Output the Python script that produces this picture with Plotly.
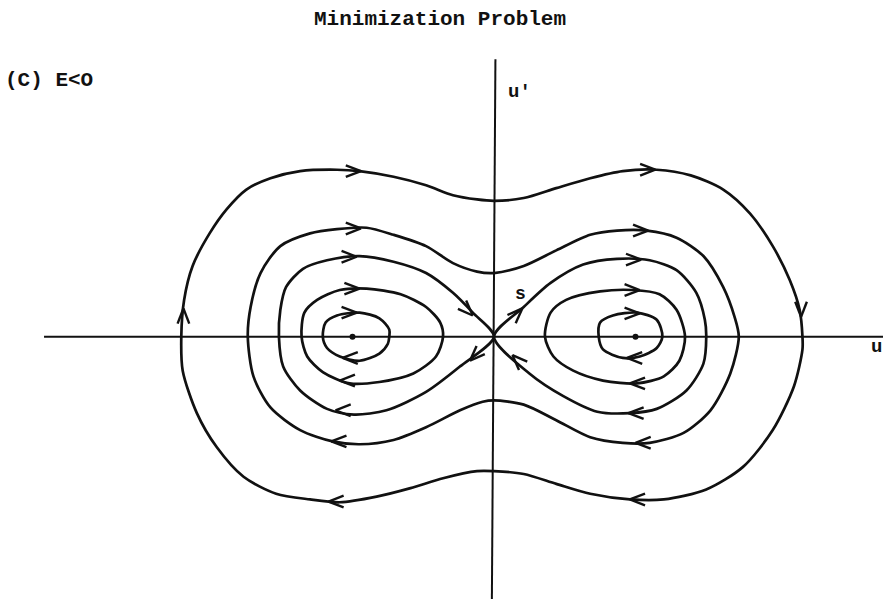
import math
import plotly.graph_objects as go

# Phase-plane orbits (u, u') of the minimization problem, E < 0.
# Each orbit is listed as a closed sequence of (u, u') samples.
outer_u = [-2.21, -2.19, -2.13, -2.01, -1.89, -1.75, -1.58, -1.37, -1.11, -0.95, -0.71, -0.48, -0.29, -0.12, 0.00,
           0.21, 0.44, 0.68, 0.91, 1.15, 1.39, 1.62, 1.81, 1.97, 2.09, 2.16, 2.18, 2.18, 2.12, 1.97, 1.76, 1.50,
           1.20, 0.96, 0.68, 0.44, 0.21, 0.00, -0.12, -0.36, -0.59, -0.83, -1.09, -1.30, -1.54, -1.77, -1.96,
           -2.10, -2.20, -2.21]
outer_v = [0.00, 0.26, 0.50, 0.73, 0.90, 1.04, 1.12, 1.17, 1.18, 1.17, 1.13, 1.07, 1.00, 0.97, 0.96,
           0.98, 1.05, 1.12, 1.17, 1.18, 1.14, 1.04, 0.87, 0.64, 0.40, 0.19, 0.00, -0.09, -0.35, -0.66, -0.92, -1.08,
           -1.15, -1.15, -1.11, -1.04, -0.97, -0.95, -0.95, -1.00, -1.07, -1.13, -1.17, -1.15, -1.11, -0.99, -0.78,
           -0.54, -0.24, 0.00]

mid_u = [-1.74, -1.72, -1.65, -1.51, -1.30, -1.11, -0.90, -0.71, -0.48, -0.29, -0.12, 0.00, 0.21, 0.44, 0.68,
         0.87, 1.08, 1.29, 1.48, 1.62, 1.70, 1.73, 1.67, 1.53, 1.34, 1.10, 0.91, 0.68, 0.44, 0.21, 0.00, -0.08,
         -0.24, -0.48, -0.71, -0.95, -1.14, -1.37, -1.58, -1.70, -1.74]
mid_v = [0.00, 0.21, 0.45, 0.64, 0.73, 0.76, 0.77, 0.72, 0.64, 0.52, 0.46, 0.45, 0.50, 0.61, 0.72,
         0.75, 0.75, 0.70, 0.57, 0.35, 0.14, 0.00, -0.26, -0.52, -0.68, -0.75, -0.75, -0.71, -0.59, -0.48, -0.45,
         -0.46, -0.52, -0.64, -0.73, -0.76, -0.74, -0.66, -0.50, -0.28, 0.00]

# Separatrix: two homoclinic loops through the saddle at the origin
sep_left_u = [0.00, -0.15, -0.29, -0.48, -0.71, -0.95, -1.18, -1.35, -1.47, -1.51, -1.52, -1.49, -1.37, -1.18,
              -0.99, -0.76, -0.48, -0.24, 0.00]
sep_left_v = [0.00, 0.17, 0.31, 0.45, 0.53, 0.57, 0.54, 0.48, 0.35, 0.19, 0.00, -0.21, -0.38, -0.51,
              -0.55, -0.52, -0.39, -0.21, 0.00]
sep_right_u = [0.00, 0.21, 0.40, 0.63, 0.87, 1.10, 1.29, 1.43, 1.49, 1.50, 1.48, 1.36, 1.15, 0.96, 0.73,
               0.49, 0.25, 0.00]
sep_right_v = [0.00, 0.21, 0.38, 0.51, 0.55, 0.54, 0.47, 0.31, 0.12, 0.00, -0.19, -0.38, -0.51, -0.54, -0.53,
               -0.42, -0.26, 0.00]

# Closed orbits inside each loop
ring_left_u = [-1.36, -1.34, -1.25, -1.09, -0.90, -0.66, -0.48, -0.38, -0.36, -0.41, -0.57, -0.81, -1.02, -1.21,
               -1.32, -1.36]
ring_left_v = [0.00, 0.17, 0.26, 0.33, 0.34, 0.30, 0.21, 0.10, 0.00, -0.14, -0.26, -0.32, -0.33, -0.25,
               -0.14, 0.00]
ring_right_u = [0.36, 0.40, 0.51, 0.75, 0.98, 1.17, 1.29, 1.35, 1.31, 1.20, 1.01, 0.77, 0.56, 0.42, 0.36]
ring_right_v = [0.00, 0.17, 0.26, 0.32, 0.33, 0.30, 0.19, 0.00, -0.17, -0.28, -0.33, -0.31, -0.24, -0.14, 0.00]

core_left_u = [-1.21, -1.19, -1.11, -0.95, -0.81, -0.74, -0.74, -0.75, -0.81, -0.95, -1.09, -1.18, -1.21]
core_left_v = [0.00, 0.10, 0.15, 0.17, 0.13, 0.05, 0.00, -0.05, -0.12, -0.17, -0.14, -0.08, 0.00]
core_right_u = [0.74, 0.75, 0.84, 1.01, 1.15, 1.19, 1.15, 1.03, 0.91, 0.77, 0.74]
core_right_v = [0.00, 0.10, 0.15, 0.17, 0.12, 0.00, -0.08, -0.14, -0.15, -0.09, 0.00]

# Centres (stable equilibria)
centre_u = [-1.0, 1.0]
centre_v = [0.0, 0.0]

# Flow-direction arrowheads: tip position and heading in degrees
arrow_u = [-0.94, -0.94, -0.97, -0.95, -0.97, 1.14, 1.09, 1.04, 1.03, 1.03,
           -1.07, -1.09, -1.12, -1.15, -1.17, 0.94, 0.96, 0.95, 1.00, 0.96,
           -2.195, 2.17, -0.15, 0.20, -0.17, 0.13]
arrow_v = [1.17, 0.765, 0.565, 0.34, 0.17, 1.18, 0.75, 0.545, 0.33, 0.165,
           -0.15, -0.31, -0.52, -0.74, -1.165, -0.15, -0.33, -0.54, -0.75, -1.15,
           0.20, 0.14, 0.15, 0.20, -0.17, -0.13]
arrow_dir = [0, 0, 0, 0, 0, 0, 0, 0, 0, 0,
             180, 180, 180, 180, 180, 180, 180, 180, 180, 180,
             90, -90, -45, 45, 225, 135]

INK = "#111111"
FONT = "Liberation Mono"

fig = go.Figure()

# coordinate axes
fig.add_trace(go.Scatter(x=[-3.18, 2.76], y=[0, 0], mode="lines",
                         line=dict(color=INK, width=2), hoverinfo="skip"))
fig.add_trace(go.Scatter(x=[0.01, -0.015], y=[1.96, -1.86], mode="lines",
                         line=dict(color=INK, width=2), hoverinfo="skip"))

orbits = [(outer_u, outer_v), (mid_u, mid_v), (sep_left_u, sep_left_v), (sep_right_u, sep_right_v),
          (ring_left_u, ring_left_v), (ring_right_u, ring_right_v),
          (core_left_u, core_left_v), (core_right_u, core_right_v)]
for ou, ov in orbits:
    fig.add_trace(go.Scatter(x=ou, y=ov, mode="lines",
                             line=dict(color=INK, width=2.7, shape="spline", smoothing=0.8),
                             hoverinfo="skip"))

# open chevron arrowheads
arm = 0.115
half = math.radians(21)
cx, cy = [], []
for tu, tv, d in zip(arrow_u, arrow_v, arrow_dir):
    th = math.radians(d)
    for s in (1, -1):
        cx += [tu - arm * math.cos(th + s * half), tu, None]
        cy += [tv - arm * math.sin(th + s * half), tv, None]
fig.add_trace(go.Scatter(x=cx, y=cy, mode="lines",
                         line=dict(color=INK, width=2.4), hoverinfo="skip"))

fig.add_trace(go.Scatter(x=centre_u, y=centre_v, mode="markers",
                         marker=dict(color=INK, size=6), hoverinfo="skip"))

annotations = [
    dict(x=440 / 883, y=1 - 20 / 599, xref="paper", yref="paper", xanchor="center", yanchor="middle",
         text="Minimization Problem", showarrow=False,
         font=dict(family=FONT, size=21, color=INK, weight="bold")),
    dict(x=3 / 883, y=1 - 80 / 599, xref="paper", yref="paper", xanchor="left", yanchor="middle",
         text="(C) E<O", showarrow=False,
         font=dict(family=FONT, size=21, color=INK, weight="bold")),
    dict(x=0.18, y=1.73, xref="x", yref="y", text="u'", showarrow=False,
         font=dict(family=FONT, size=19, color=INK, weight="bold")),
    dict(x=2.70, y=-0.075, xref="x", yref="y", text="u", showarrow=False,
         font=dict(family=FONT, size=19, color=INK, weight="bold")),
    dict(x=0.185, y=0.30, xref="x", yref="y", text="s", showarrow=False,
         font=dict(family=FONT, size=18, color=INK, weight="bold")),
]

fig.update_layout(
    width=883, height=599,
    margin=dict(l=0, r=0, t=0, b=0),
    paper_bgcolor="white", plot_bgcolor="white",
    showlegend=False,
    annotations=annotations,
    xaxis=dict(range=[-3.4912, 2.7491], visible=False, fixedrange=True),
    yaxis=dict(range=[-1.8537, 2.3795], visible=False, fixedrange=True),
)

fig.write_html("out.html")
